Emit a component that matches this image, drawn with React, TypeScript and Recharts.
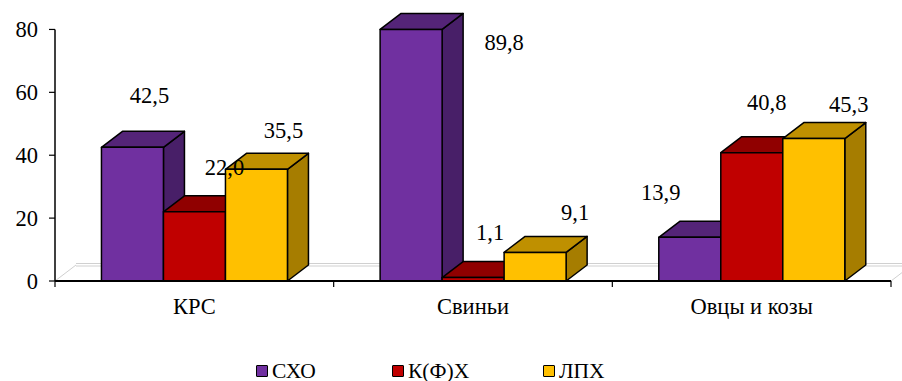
import React from "react";
import { BarChart, Bar, XAxis, YAxis, Legend, LabelList } from "recharts";

const categories = ["КРС", "Свиньи", "Овцы и козы"];
const sxo = [42.5, 89.8, 13.9];
const kfx = [22.0, 1.1, 40.8];
const lph = [35.5, 9.1, 45.3];
const yTicks = [0, 20, 40, 60, 80];

const chartData = categories.map((name, i) => ({
  name,
  sxo: sxo[i],
  kfx: kfx[i],
  lph: lph[i],
}));

// the scale runs past the last tick so the cut-off bar keeps its top face on screen
const AXIS_TOP = 80;
const DOMAIN_MAX = 90;

const FONT = '"Liberation Serif", "Times New Roman", serif';
const FONT_SIZE = 22.5;
const LEGEND_FONT_SIZE = 21.5;
const DEPTH_X = 21;
const DEPTH_Y = 16;

const WIDTH = 902;
const HEIGHT = 383;
const PLOT_LEFT = 55;
const PLOT_RIGHT = 891;
const PLOT_BOTTOM = 283;
const PLOT_TOP = 31.5;

const purple = { front: "#7030A0", top: "#542478", side: "#481F68" };
const red = { front: "#C00000", top: "#900000", side: "#7D0000" };
const yellow = { front: "#FFC000", top: "#BF9000", side: "#A67D00" };

// label shift from the top centre of each bar, by category
const sxoShift = [[17, -52], [93, 43], [-29, -45]];
const kfxShift = [[30, -45], [17, -45], [15, -51]];
const lphShift = [[27, -39], [40, -40], [35, -34]];

const legendX = [256, 392, 543];

const Box3D = (props: any) => {
  const { x, y, width, height, colors, payload, dataKey } = props;
  const value = payload[dataKey];
  const h = (Math.min(value, AXIS_TOP) * height) / value;
  const bottom = y + height;
  const top = bottom - h;
  const right = x + width;
  const dx = DEPTH_X;
  const dy = DEPTH_Y;
  const edge = { stroke: "#000", strokeWidth: 1.5, strokeLinejoin: "round" as const };
  return (
    <g>
      <path
        d={`M${right},${top} L${right + dx},${top - dy} L${right + dx},${bottom - dy} L${right},${bottom} Z`}
        fill={colors.side}
        {...edge}
      />
      <path
        d={`M${x},${top} L${x + dx},${top - dy} L${right + dx},${top - dy} L${right},${top} Z`}
        fill={colors.top}
        {...edge}
      />
      <rect x={x} y={top} width={width} height={h} fill={colors.front} {...edge} />
    </g>
  );
};

const ValueLabel = (shift: number[][]) => (props: any) => {
  const { x, y, width, value, index } = props;
  const [dx, dy] = shift[index];
  return (
    <text
      x={x + width / 2 + dx}
      y={y + dy}
      dy="0.35em"
      textAnchor="middle"
      fontFamily={FONT}
      fontSize={FONT_SIZE}
      fill="#000"
    >
      {Number(value).toFixed(1).replace(".", ",")}
    </text>
  );
};

const CategoryTick = (props: any) => {
  const { x, y, payload, index } = props;
  const band = (PLOT_RIGHT - PLOT_LEFT) / categories.length;
  return (
    <g>
      <line x1={x - band / 2} x2={x - band / 2} y1={y} y2={y + 6} stroke="#000" strokeWidth={1.2} />
      {index === categories.length - 1 && (
        <line x1={x + band / 2} x2={x + band / 2} y1={y} y2={y + 6} stroke="#000" strokeWidth={1.2} />
      )}
      <text x={x} y={y + 33} textAnchor="middle" fontFamily={FONT} fontSize={FONT_SIZE} fill="#000">
        {payload.value}
      </text>
    </g>
  );
};

const ValueTick = (props: any) => {
  const { x, y, payload } = props;
  return (
    <g>
      <line x1={x - 6} x2={x} y1={y} y2={y} stroke="#000" strokeWidth={1.2} />
      <text x={x - 17} y={y} dy="0.35em" textAnchor="end" fontFamily={FONT} fontSize={FONT_SIZE} fill="#000">
        {payload.value}
      </text>
    </g>
  );
};

const LegendRow = ({ payload }: any) => (
  <div style={{ position: "relative", height: 20 }}>
    {payload?.map((entry: any, i: number) => (
      <div
        key={entry.value}
        style={{
          position: "absolute",
          left: legendX[i],
          top: 0,
          display: "flex",
          alignItems: "center",
          fontFamily: FONT,
          fontSize: LEGEND_FONT_SIZE,
          lineHeight: "20px",
          color: "#000",
          whiteSpace: "nowrap",
        }}
      >
        <span
          style={{
            boxSizing: "border-box",
            width: 12,
            height: 12,
            marginRight: 4,
            background: entry.color,
            border: "1.5px solid #000",
            borderRadius: 1,
          }}
        />
        {entry.value}
      </div>
    ))}
  </div>
);

// back edge of the floor behind the bars
const Floor = () => (
  <g fill="none" stroke="#D0D0D0" strokeWidth={1}>
    <line x1={PLOT_LEFT + DEPTH_X} x2={WIDTH} y1={PLOT_BOTTOM - 17.5} y2={PLOT_BOTTOM - 17.5} />
    <line x1={PLOT_LEFT + DEPTH_X} x2={WIDTH} y1={PLOT_BOTTOM - 15} y2={PLOT_BOTTOM - 15} />
    <line x1={PLOT_LEFT} x2={PLOT_LEFT + DEPTH_X} y1={PLOT_BOTTOM} y2={PLOT_BOTTOM - DEPTH_Y} />
    <line x1={PLOT_RIGHT} x2={PLOT_RIGHT + DEPTH_X} y1={PLOT_BOTTOM} y2={PLOT_BOTTOM - DEPTH_Y} />
  </g>
);

export default function App() {
  return (
    <div style={{ position: "absolute", left: 0, top: -2, width: WIDTH, height: HEIGHT }}>
      <BarChart
        width={WIDTH}
        height={HEIGHT}
        data={chartData}
        margin={{ top: 0, right: WIDTH - PLOT_RIGHT, bottom: 0, left: 0 }}
        barCategoryGap="16.67%"
        barGap={0}
      >
        <Floor />
        <line x1={PLOT_LEFT} x2={PLOT_LEFT} y1={PLOT_TOP} y2={PLOT_BOTTOM} stroke="#000" strokeWidth={1.5} />
        <XAxis
          dataKey="name"
          height={HEIGHT - PLOT_BOTTOM}
          axisLine={{ stroke: "#000", strokeWidth: 2 }}
          tickLine={false}
          tickSize={0}
          tickMargin={0}
          interval={0}
          tick={<CategoryTick />}
        />
        <YAxis
          width={PLOT_LEFT}
          domain={[0, DOMAIN_MAX]}
          ticks={yTicks}
          interval={0}
          axisLine={false}
          tickLine={false}
          tickSize={0}
          tickMargin={0}
          tick={<ValueTick />}
        />
        <Legend
          content={<LegendRow />}
          layout="horizontal"
          verticalAlign="middle"
          itemSorter={null}
          wrapperStyle={{ left: 0, top: 363, width: WIDTH, height: 20 }}
        />
        <Bar
          dataKey="sxo"
          name="СХО"
          fill={purple.front}
          isAnimationActive={false}
          shape={<Box3D colors={purple} />}
        >
          <LabelList dataKey="sxo" content={ValueLabel(sxoShift)} />
        </Bar>
        <Bar
          dataKey="kfx"
          name="К(Ф)Х"
          fill={red.front}
          isAnimationActive={false}
          shape={<Box3D colors={red} />}
        >
          <LabelList dataKey="kfx" content={ValueLabel(kfxShift)} />
        </Bar>
        <Bar
          dataKey="lph"
          name="ЛПХ"
          fill={yellow.front}
          isAnimationActive={false}
          shape={<Box3D colors={yellow} />}
        >
          <LabelList dataKey="lph" content={ValueLabel(lphShift)} />
        </Bar>
      </BarChart>
    </div>
  );
}
